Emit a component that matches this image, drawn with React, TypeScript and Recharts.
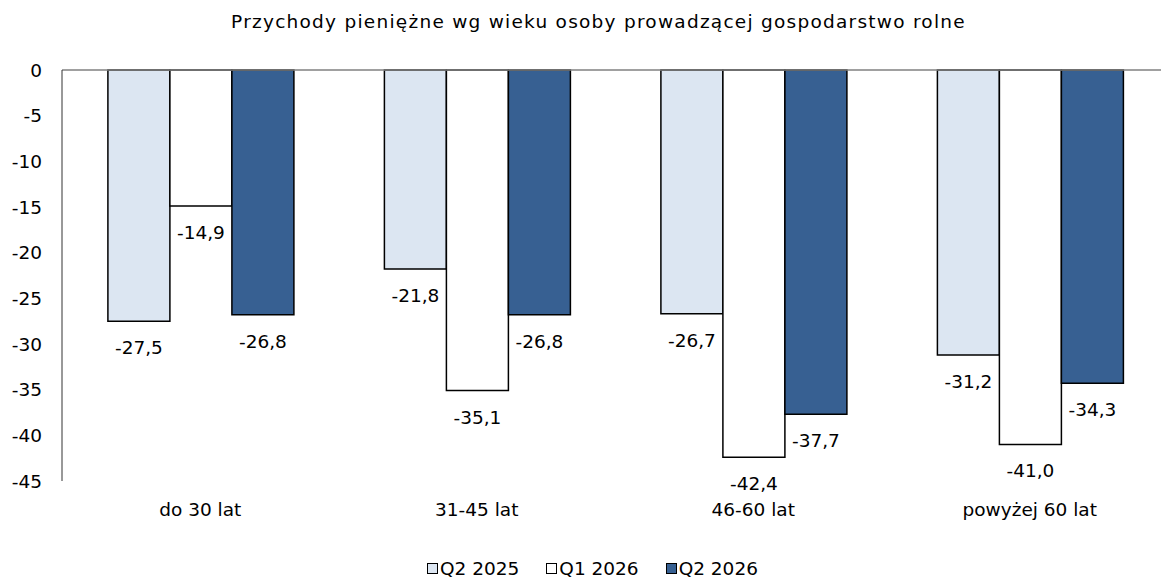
import { BarChart, Bar, XAxis, YAxis, ReferenceLine, LabelList, Legend } from "recharts";

const FONT = "'DejaVu Sans', sans-serif";
const FS = 18.5;

const categories = ["do 30 lat", "31-45 lat", "46-60 lat", "powyżej 60 lat"];
const q2_2025 = [-27.5, -21.8, -26.7, -31.2];
const q1_2026 = [-14.9, -35.1, -42.4, -41.0];
const q2_2026 = [-26.8, -26.8, -37.7, -34.3];
const yTicks = [0, -5, -10, -15, -20, -25, -30, -35, -40, -45];

const SERIES = [
  { key: "q2_2025", name: "Q2 2025", fill: "#dce6f2" },
  { key: "q1_2026", name: "Q1 2026", fill: "#ffffff" },
  { key: "q2_2026", name: "Q2 2026", fill: "#376092" },
];

const data = categories.map((c, i) => ({
  name: c,
  q2_2025: q2_2025[i],
  q1_2026: q1_2026[i],
  q2_2026: q2_2026[i],
}));

const fmt = (v: number) => v.toFixed(1).replace(".", ",");

// label sits under the end of each (negative) bar
const BarEndLabel = (props: any) => {
  const { x, y, width, height, value } = props;
  const end = Math.max(Number(y), Number(y) + Number(height));
  return (
    <text
      x={Number(x) + Number(width) / 2}
      y={end + 33}
      textAnchor="middle"
      fontSize={FS}
      fontFamily={FONT}
      fill="#000"
    >
      {fmt(Number(value))}
    </text>
  );
};

const LegendBox = () => (
  <div
    style={{
      display: "flex",
      justifyContent: "center",
      gap: 27,
      fontFamily: FONT,
      fontSize: FS,
      color: "#000",
      paddingLeft: 24,
    }}
  >
    {SERIES.map((s) => (
      <div key={s.key} style={{ display: "flex", alignItems: "center" }}>
        <span
          style={{
            display: "inline-block",
            width: 9,
            height: 9,
            border: "1px solid #000",
            background: s.fill,
            marginRight: 2,
          }}
        />
        <span>{s.name}</span>
      </div>
    ))}
  </div>
);

export default function App() {
  return (
    <div
      style={{
        position: "absolute",
        left: 0,
        top: 0,
        width: 1161,
        height: 586,
        overflow: "hidden",
        background: "#fff",
      }}
    >
      <div
        style={{
          position: "absolute",
          left: 598.5,
          top: 12,
          transform: "translateX(-50%)",
          whiteSpace: "nowrap",
          fontFamily: FONT,
          fontSize: FS,
          letterSpacing: 1.25,
          lineHeight: "20px",
          color: "#000",
        }}
      >
        Przychody pieniężne wg wieku osoby prowadzącej gospodarstwo rolne
      </div>
      <BarChart
        width={1170}
        height={586}
        data={data}
        margin={{ top: 70, right: 2, left: 0, bottom: 44 }}
        barCategoryGap="16.6%"
        barGap={0}
      >
        <XAxis
          dataKey="name"
          axisLine={false}
          tickLine={false}
          tickSize={0}
          tickMargin={22}
          height={40}
          interval={0}
          tick={{ fontSize: FS, fontFamily: FONT, fill: "#000" }}
        />
        <YAxis
          domain={[-45, 0]}
          ticks={yTicks}
          interval={0}
          width={62}
          tickLine={false}
          tickSize={0}
          tickMargin={20}
          axisLine={{ stroke: "#333", strokeWidth: 1 }}
          tick={{ fontSize: FS, fontFamily: FONT, fill: "#000" }}
        />
        <Legend
          verticalAlign="bottom"
          wrapperStyle={{ position: "absolute", top: 558, left: 0, width: 1161 }}
          content={<LegendBox />}
        />
        {SERIES.map((s) => (
          <Bar
            key={s.key}
            dataKey={s.key}
            name={s.name}
            fill={s.fill}
            stroke="#000"
            strokeWidth={1.5}
            isAnimationActive={false}
          >
            <LabelList dataKey={s.key} content={<BarEndLabel />} />
          </Bar>
        ))}
        <ReferenceLine y={0} stroke="#808080" strokeWidth={1.5} />
      </BarChart>
    </div>
  );
}
